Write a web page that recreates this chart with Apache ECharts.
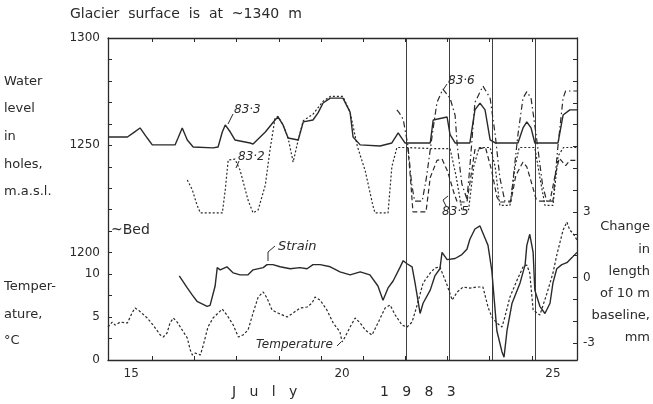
<!DOCTYPE html>
<html>
<head>
<meta charset="utf-8">
<script src="https://cdn.jsdelivr.net/npm/echarts@6/dist/echarts.min.js"></script>
<style>
  html, body { margin: 0; padding: 0; background: #fff; }
  #main { width: 653px; height: 404px; }
</style>
</head>
<body>
<div id="main"></div>
<script>
// x values are days of July 1983 (labels at midday, ticks at midnight)
var dayLabels = [15, 20, 25]
var dayTicks = [15.5, 16.5, 17.5, 18.5, 19.5, 20.5, 21.5, 22.5, 23.5, 24.5]
var markerDays = [21.53, 22.53, 23.57, 24.57]

var waterLabels = [1200, 1250, 1300]
var waterTicks = [1200, 1210, 1220, 1230, 1240, 1250, 1260, 1270, 1280, 1290, 1300]
var tempLabels = [0, 5, 10]
var tempTicks = [0, 2.5, 5, 7.5, 10]
var strainLabels = [-3, 0, 3]
var strainTicks = [-3, -2, -1, 0, 1, 2, 3, 4, 5, 6, 7, 8, 9, 10]

// water level in holes, m a.s.l. [day, level]
var hole833 = [[14.45,1253.9],[14.91,1253.9],[15.05,1255.8],[15.21,1258.1],[15.38,1253.4],[15.50,1250.2],[16.04,1250.2],[16.11,1253.4],[16.21,1258.1],[16.33,1252.5],[16.47,1249.2],[16.94,1248.8],[17.06,1249.2],[17.16,1256.2],[17.23,1259.5],[17.35,1256.2],[17.46,1252.5],[17.82,1251.1],[17.89,1250.6],[18.18,1256.2],[18.41,1261.8],[18.48,1263.2],[18.60,1259.5],[18.72,1253.4],[18.96,1252.5],[19.08,1260.9],[19.31,1261.8],[19.43,1265.1],[19.55,1269.7],[19.72,1272.0],[20.02,1272.0],[20.19,1265.5],[20.26,1253.9],[20.43,1250.2],[20.90,1249.7],[21.18,1251.1],[21.33,1255.8],[21.49,1251.1],[22.09,1251.1],[22.16,1261.8],[22.49,1263.2],[22.56,1255.0],[22.68,1251.1],[23.03,1251.1],[23.15,1266.5],[23.27,1269.7],[23.39,1266.5],[23.51,1252.5],[23.63,1251.1],[24.17,1251.1],[24.29,1258.1],[24.38,1260.9],[24.48,1258.1],[24.57,1251.1],[25.12,1251.1],[25.24,1264.1],[25.40,1266.5],[25.57,1266.5]]
var hole832 = [[16.33,1233.9],[16.45,1229.2],[16.56,1222.2],[16.64,1218.5],[17.16,1218.5],[17.23,1229.2],[17.30,1243.2],[17.46,1243.6],[17.58,1238.5],[17.77,1224.5],[17.89,1218.5],[18.01,1219.9],[18.18,1231.5],[18.29,1247.8],[18.41,1262.5],[18.48,1263.5],[18.60,1259.5],[18.72,1253.4],[18.84,1242.2],[18.96,1252.5],[19.08,1261.5],[19.31,1264.5],[19.55,1270.5],[19.72,1272.8],[20.02,1272.8],[20.19,1265.5],[20.36,1249.7],[20.55,1238.0],[20.73,1222.0],[20.78,1218.5],[21.09,1218.5],[21.18,1240.0],[21.30,1249.0],[21.49,1249.0],[22.09,1248.5],[22.56,1248.5],[22.70,1236.0],[22.84,1220.0],[23.00,1220.0],[23.12,1240.0],[23.25,1249.0],[23.51,1249.0],[23.63,1240.0],[23.74,1222.0],[23.98,1222.0],[24.10,1240.0],[24.20,1249.0],[24.57,1249.0],[24.69,1235.0],[24.81,1222.0],[25.00,1222.0],[25.12,1245.0],[25.25,1249.0],[25.57,1249.0]]
var hole836 = [[21.30,1266.5],[21.36,1265.0],[21.45,1262.0],[21.56,1250.0],[21.65,1232.0],[21.72,1224.0],[21.90,1224.0],[22.00,1235.0],[22.16,1258.0],[22.25,1270.0],[22.39,1276.2],[22.56,1272.0],[22.68,1264.0],[22.73,1250.0],[22.84,1232.0],[22.96,1225.0],[23.03,1240.0],[23.15,1270.0],[23.34,1277.6],[23.51,1272.0],[23.63,1255.0],[23.74,1235.0],[23.86,1224.0],[24.00,1224.0],[24.17,1255.0],[24.29,1272.0],[24.38,1275.0],[24.48,1272.0],[24.60,1255.0],[24.75,1232.0],[24.85,1224.0],[25.00,1224.0],[25.12,1250.0],[25.24,1272.0],[25.30,1275.3],[25.57,1275.3]]
var hole835 = [[21.56,1249.0],[21.62,1235.0],[21.68,1219.0],[21.99,1219.0],[22.09,1235.0],[22.25,1243.0],[22.37,1243.6],[22.50,1238.0],[22.65,1228.0],[22.73,1223.6],[22.96,1223.6],[23.05,1235.0],[23.15,1248.0],[23.40,1249.0],[23.55,1238.0],[23.67,1226.0],[23.74,1223.6],[24.00,1223.6],[24.12,1236.0],[24.29,1242.2],[24.38,1240.0],[24.50,1232.0],[24.60,1225.0],[24.69,1224.0],[24.93,1224.0],[25.05,1236.0],[25.15,1244.0],[25.30,1240.5],[25.40,1243.0],[25.57,1243.0]]

// change in length of 10 m baseline, mm [day, mm]
var strain = [[16.14,0.07],[16.33,-0.48],[16.45,-0.81],[16.56,-1.09],[16.80,-1.32],[16.87,-1.28],[16.99,-0.39],[17.04,0.45],[17.11,0.35],[17.27,0.49],[17.42,0.21],[17.58,0.12],[17.77,0.12],[17.89,0.35],[18.13,0.45],[18.22,0.59],[18.36,0.59],[18.53,0.49],[18.77,0.40],[19.00,0.45],[19.17,0.40],[19.31,0.59],[19.48,0.59],[19.72,0.49],[19.95,0.26],[20.19,0.12],[20.43,0.26],[20.66,0.12],[20.85,-0.39],[20.97,-1.04],[21.09,-0.48],[21.21,-0.16],[21.37,0.45],[21.45,0.77],[21.54,0.63],[21.66,0.49],[21.73,-0.25],[21.85,-1.65],[21.92,-1.18],[22.09,-0.58],[22.20,0.07],[22.32,0.40],[22.37,1.15],[22.49,0.82],[22.68,0.87],[22.84,1.05],[22.96,1.29],[23.03,1.75],[23.15,2.22],[23.27,2.36],[23.39,1.80],[23.46,1.47],[23.55,0.31],[23.67,-2.44],[23.79,-3.40],[23.84,-3.65],[23.91,-2.44],[24.03,-1.18],[24.22,-0.25],[24.34,0.59],[24.38,1.47],[24.45,1.98],[24.53,1.15],[24.57,-0.58],[24.69,-1.32],[24.81,-1.65],[24.93,-1.18],[25.00,-0.25],[25.09,0.40],[25.21,0.59],[25.33,0.68],[25.45,0.91],[25.57,1.15]]

// air temperature, deg C [day, T]
var temperature = [[14.45,3.84],[14.55,4.42],[14.62,4.07],[14.74,4.42],[14.91,4.31],[15.02,5.47],[15.09,6.05],[15.17,5.82],[15.21,6.05],[15.38,4.89],[15.52,4.07],[15.69,2.91],[15.76,2.68],[15.85,3.14],[15.92,4.31],[16.00,4.89],[16.09,4.42],[16.21,3.49],[16.33,2.56],[16.40,1.16],[16.45,0.58],[16.52,0.81],[16.64,0.58],[16.71,1.75],[16.82,3.84],[16.94,4.89],[17.16,5.94],[17.27,5.24],[17.42,4.07],[17.54,2.68],[17.65,2.91],[17.77,3.49],[17.89,5.47],[18.01,7.33],[18.13,7.92],[18.22,7.22],[18.34,5.82],[18.48,5.47],[18.70,5.01],[18.84,5.47],[19.00,6.05],[19.17,6.17],[19.29,6.64],[19.36,7.33],[19.48,6.98],[19.64,5.82],[19.79,4.31],[19.95,3.26],[20.00,2.10],[20.07,2.68],[20.19,3.84],[20.31,4.89],[20.43,4.31],[20.55,3.49],[20.71,2.91],[20.85,4.31],[21.02,6.05],[21.14,6.40],[21.26,5.24],[21.42,4.07],[21.54,3.84],[21.66,4.42],[21.78,6.40],[21.92,8.96],[22.09,10.13],[22.20,10.71],[22.32,10.83],[22.49,8.73],[22.61,6.98],[22.73,7.92],[22.87,8.50],[23.03,8.38],[23.20,8.50],[23.34,8.50],[23.46,6.17],[23.55,5.01],[23.67,4.31],[23.79,3.84],[23.86,5.01],[23.98,7.33],[24.15,9.31],[24.29,10.83],[24.38,11.06],[24.45,10.13],[24.53,5.82],[24.69,5.24],[24.86,7.80],[25.00,10.13],[25.09,12.22],[25.24,15.13],[25.33,16.07],[25.40,15.13],[25.47,14.78],[25.57,13.97]]

var ink = '#2a2a2a'
var font = 'DejaVu Sans'

var myChart = echarts.init(document.getElementById('main'))

function lineSeries (name, data, yIndex, dash, width) {
  return {
    name: name,
    type: 'line',
    yAxisIndex: yIndex,
    data: data,
    showSymbol: false,
    silent: true,
    lineStyle: { color: ink, width: width || 1.2, type: dash }
  }
}

function txt (x, y, s, opts) {
  opts = opts || {}
  return {
    type: 'text',
    x: x,
    y: y,
    silent: true,
    style: {
      text: s,
      fill: ink,
      font: (opts.italic ? 'italic ' : '') + (opts.size || 13) + 'px "' + font + '"',
      textAlign: opts.align || 'left',
      textVerticalAlign: 'middle'
    }
  }
}

function leader (points) {
  return {
    type: 'polyline',
    silent: true,
    shape: { points: points },
    style: { stroke: ink, lineWidth: 1, fill: null }
  }
}

// plain numbers, no thousands separator
function plain (v) {
  return String(v)
}

var option = {
  backgroundColor: '#fff',
  animation: false,
  grid: { left: 108, right: 76, top: 38, bottom: 44, outerBoundsMode: 'none' },
  xAxis: [
    {
      type: 'value',
      min: 14.45,
      max: 25.57,
      position: 'bottom',
      axisLine: { onZero: false, lineStyle: { color: ink, width: 1.3 } },
      axisTick: { inside: true, length: 4, customValues: dayTicks, lineStyle: { color: ink } },
      axisLabel: { customValues: dayLabels, formatter: plain, color: ink, fontFamily: font, fontSize: 12, margin: 8 },
      splitLine: { show: false }
    },
    {
      type: 'value',
      min: 14.45,
      max: 25.57,
      position: 'top',
      axisLine: { onZero: false, lineStyle: { color: ink, width: 1.3 } },
      axisTick: { inside: true, length: 4, customValues: dayTicks, lineStyle: { color: ink } },
      axisLabel: { show: false },
      splitLine: { show: false }
    }
  ],
  yAxis: [
    {
      // water level, m a.s.l.
      type: 'value',
      min: 1150,
      max: 1300,
      position: 'left',
      axisLine: { show: true, onZero: false, lineStyle: { color: ink, width: 1.3 } },
      axisTick: { show: true, inside: true, length: 4, customValues: waterTicks, lineStyle: { color: ink } },
      axisLabel: { customValues: waterLabels, formatter: plain, color: ink, fontFamily: font, fontSize: 12, margin: 8 },
      splitLine: { show: false }
    },
    {
      // temperature, deg C
      type: 'value',
      min: 0,
      max: 37.5,
      position: 'left',
      axisLine: { show: false, onZero: false },
      axisTick: { show: true, inside: true, length: 4, customValues: tempTicks, lineStyle: { color: ink } },
      axisLabel: { customValues: tempLabels, formatter: plain, color: ink, fontFamily: font, fontSize: 12, margin: 8 },
      splitLine: { show: false }
    },
    {
      // change in length, mm
      type: 'value',
      min: -3.78,
      max: 10.97,
      position: 'right',
      axisLine: { show: true, onZero: false, lineStyle: { color: ink, width: 1.3 } },
      axisTick: { show: true, inside: true, length: 4, customValues: strainTicks, lineStyle: { color: ink } },
      axisLabel: { customValues: strainLabels, formatter: plain, color: ink, fontFamily: font, fontSize: 12, margin: 6 },
      splitLine: { show: false }
    }
  ],
  series: [
    Object.assign(lineSeries('83·3', hole833, 0, 'solid', 1.4), {
      markLine: {
        silent: true,
        symbol: 'none',
        label: { show: false },
        lineStyle: { color: ink, width: 0.9, type: 'solid' },
        data: markerDays.map(function (d) { return { xAxis: d } })
      }
    }),
    lineSeries('83·2', hole832, 0, [2, 2]),
    lineSeries('83·6', hole836, 0, [6, 3, 1.5, 3]),
    lineSeries('83·5', hole835, 0, [5, 3]),
    lineSeries('Strain', strain, 2, 'solid', 1.4),
    lineSeries('Temperature', temperature, 1, [2.5, 2])
  ],
  graphic: [
    txt(70, 14, 'Glacier  surface  is  at  ~1340  m', { size: 14 }),
    txt(4, 82, 'Water'),
    txt(4, 109, 'level'),
    txt(4, 137, 'in'),
    txt(4, 165, 'holes,'),
    txt(4, 192, 'm.a.s.l.'),
    txt(111, 230, '~Bed', { size: 14 }),
    txt(4, 287, 'Temper-'),
    txt(4, 315, 'ature,'),
    txt(4, 341, '°C'),
    txt(650, 227, 'Change', { align: 'right' }),
    txt(650, 250, 'in', { align: 'right' }),
    txt(650, 272, 'length', { align: 'right' }),
    txt(650, 294, 'of 10 m', { align: 'right' }),
    txt(650, 316, 'baseline,', { align: 'right' }),
    txt(650, 338, 'mm', { align: 'right' }),
    txt(232, 392, 'J   u   l   y', { size: 14 }),
    txt(380, 392, '1   9   8   3', { size: 14 }),
    txt(234, 110, '83·3', { italic: true, size: 12 }),
    leader([[233, 114], [228, 124]]),
    txt(238, 157, '83·2', { italic: true, size: 12 }),
    leader([[239, 161], [236, 168]]),
    txt(448, 81, '83·6', { italic: true, size: 12 }),
    leader([[447, 84], [443, 90]]),
    txt(442, 212, '83·5', { italic: true, size: 12 }),
    leader([[446, 206], [443, 200], [448, 196]]),
    txt(278, 247, 'Strain', { italic: true, size: 13 }),
    leader([[275, 246], [268, 252], [268, 261]]),
    txt(256, 345, 'Temperature', { italic: true, size: 12 }),
    leader([[337, 346], [341, 342]])
  ]
}

myChart.setOption(option)
</script>
</body>
</html>
